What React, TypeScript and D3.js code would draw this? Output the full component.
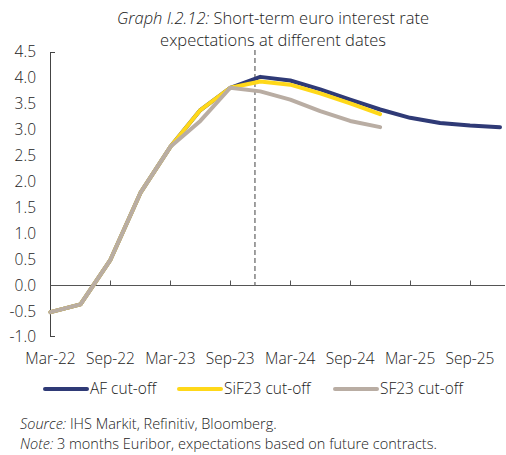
import React from "react";
import * as d3 from "d3";

// Quarterly observation months (month index from Mar-22)
const quarters = ["2022-03","2022-06","2022-09","2022-12","2023-03","2023-06","2023-09","2023-12","2024-03","2024-06","2024-09","2024-12","2025-03","2025-06","2025-09","2025-12"];
const afCutoff = [-0.52,-0.37,0.49,1.78,2.67,3.38,3.81,4.02,3.95,3.78,3.58,3.39,3.23,3.13,3.08,3.05];
const sif23Cutoff = [-0.52,-0.37,0.49,1.78,2.67,3.38,3.81,3.93,3.87,3.70,3.51,3.30];
const sf23Cutoff = [-0.52,-0.37,0.49,1.78,2.67,3.17,3.81,3.74,3.58,3.36,3.17,3.05];
const xTickLabels = ["Mar-22","Sep-22","Mar-23","Sep-23","Mar-24","Sep-24","Mar-25","Sep-25"];
const yTicks = [-1.0,-0.5,0.0,0.5,1.0,1.5,2.0,2.5,3.0,3.5,4.0,4.5];
const cutoffDate = "2023-11-15";
const seriesNames = ["AF cut-off","SiF23 cut-off","SF23 cut-off"];
const seriesColors = ["#2F3A76","#FFD819","#B9ADA3"];

const monthIndex = (s: string) => {
  const [y, m, d] = s.split("-").map(Number);
  return (y - 2022) * 12 + (m - 3) + (d ? (d - 1) / 30 : 0);
};
const labelMonth = (s: string) => {
  const names = ["Jan","Feb","Mar","Apr","May","Jun","Jul","Aug","Sep","Oct","Nov","Dec"];
  const [mn, yy] = s.split("-");
  return (2000 + Number(yy) - 2022) * 12 + (names.indexOf(mn) + 1 - 3);
};

const FONT = "'Open Sans', Lato, sans-serif";
const TXT = "#222";
const FW = 300;

export default function App() {
  const W = 506, H = 455;
  const x = d3.scaleLinear().domain([0, 45.5]).range([50.5, 505]);
  const y = d3.scaleLinear().domain([-1, 4.5]).range([337, 52]);
  const line = d3.line<[number, number]>().x(d => x(d[0])).y(d => y(d[1])).curve(d3.curveLinear);
  const mk = (vals: number[]) => vals.map((v, i) => [monthIndex(quarters[i]), v] as [number, number]);
  const series = [afCutoff, sif23Cutoff, sf23Cutoff];
  const xc = x(monthIndex(cutoffDate));

  return (
    <svg width={W} height={H} style={{ position: "absolute", left: 0, top: 0 }} fontFamily={FONT} fontWeight={FW}>
      <rect width={W} height={H} fill="#fff" />
      <text x={273} y={24} textAnchor="middle" fontSize={16.5} fill={TXT}>
        <tspan fontStyle="italic">Graph I.2.12:</tspan> Short-term euro interest rate
      </text>
      <text x={273} y={46} textAnchor="middle" fontSize={16.5} fill={TXT}>expectations at different dates</text>

      {/* y axis */}
      <line x1={50.5} x2={50.5} y1={y(4.5)} y2={y(-1)} stroke="#444" strokeWidth={1} />
      <line x1={50.5} x2={55} y1={y(4.5) + 0.5} y2={y(4.5) + 0.5} stroke="#444" />
      <line x1={50.5} x2={55} y1={y(-1) - 0.5} y2={y(-1) - 0.5} stroke="#444" />
      {yTicks.map(t => (
        <text key={t} x={36} y={y(t)} dy="0.35em" textAnchor="end" fontSize={15.5} fill={TXT}>{t.toFixed(1)}</text>
      ))}

      {/* zero line with ticks */}
      <line x1={50.5} x2={505} y1={Math.round(y(0)) + 0.5} y2={Math.round(y(0)) + 0.5} stroke="#555" strokeWidth={1} />
      {xTickLabels.map(l => {
        const px = Math.round(x(labelMonth(l))) + 0.5;
        return (
          <g key={l}>
            {l !== "Mar-22" && <line x1={px} x2={px} y1={Math.round(y(0)) + 0.5} y2={Math.round(y(0)) - 4.5} stroke="#555" />}
            <text x={x(labelMonth(l))} y={364} textAnchor="middle" fontSize={15.5} fill={TXT}>{l}</text>
          </g>
        );
      })}

      {/* cutoff dashed line */}
      <line x1={xc} x2={xc} y1={50} y2={y(0)} stroke="#808080" strokeWidth={1.5} strokeDasharray="5,3" />

      {series.map((s, i) => (
        <path key={i} d={line(mk(s)) || ""} fill="none" stroke={seriesColors[i]} strokeWidth={4} strokeLinecap="round" strokeLinejoin="round" />
      ))}

      {/* legend */}
      {[[45, 90], [179, 224], [335, 380]].map(([lx, tx], i) => (
        <g key={i}>
          <line x1={lx} x2={lx + 42} y1={389} y2={389} stroke={seriesColors[i]} strokeWidth={4} strokeLinecap="round" />
          <text x={tx} y={389} dy="0.35em" fontSize={15.5} fill={TXT}>{seriesNames[i]}</text>
        </g>
      ))}

      {/* footnotes */}
      <text x={20} y={429} fontSize={14.5} fill={TXT}><tspan fontStyle="italic">Source:</tspan> IHS Markit, Refinitiv, Bloomberg.</text>
      <text x={20} y={449} fontSize={14.5} fill={TXT}><tspan fontStyle="italic">Note:</tspan> 3 months Euribor, expectations based on future contracts.</text>
    </svg>
  );
}
